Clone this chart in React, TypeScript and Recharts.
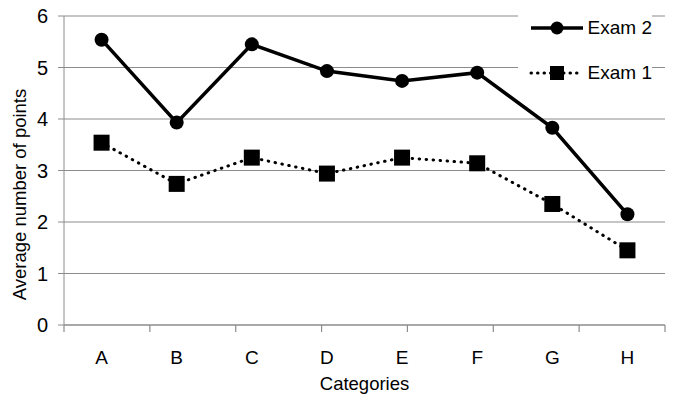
import { LineChart, Line, XAxis, YAxis, CartesianGrid } from "recharts";

const categories = ["A", "B", "C", "D", "E", "F", "G", "H"];
const exam2 = [5.54, 3.93, 5.45, 4.93, 4.74, 4.9, 3.83, 2.15];
const exam1 = [3.54, 2.74, 3.25, 2.94, 3.25, 3.14, 2.35, 1.45];
const yTicks = [0, 1, 2, 3, 4, 5, 6];
const boundaryTicks = [0, 1, 2, 3, 4, 5, 6, 7, 8];

const data = categories.map((c, i) => ({ cat: c, exam2: exam2[i], exam1: exam1[i] }));

const FONT = "'Liberation Sans', Arial, sans-serif";
const GRID = "#8c8c8c";

function SquareDot(props: any) {
  const { cx, cy } = props;
  if (cx == null || cy == null) return null;
  return <rect x={cx - 8} y={cy - 8} width={16} height={16} fill="#000" />;
}

// tick marks sit on the category boundaries, drawn downward from the axis
function EdgeTick(props: any) {
  const { x, y } = props;
  return <line x1={x} y1={y} x2={x} y2={y + 7} stroke={GRID} strokeWidth={1.2} />;
}

function YLabel(props: any) {
  const { viewBox } = props;
  const x = viewBox.x + 19;
  const y = viewBox.y + viewBox.height / 2 + 24;
  return (
    <text
      x={x}
      y={y}
      transform={`rotate(-90, ${x}, ${y})`}
      textAnchor="middle"
      dominantBaseline="central"
      fontSize={18.5}
      fill="#000"
    >
      Average number of points
    </text>
  );
}

function LegendBox() {
  const rows = [
    { name: "Exam 2", dashed: false },
    { name: "Exam 1", dashed: true },
  ];
  return (
    <div
      style={{
        position: "absolute",
        left: 518,
        top: 0,
        width: 134,
        height: 96,
        background: "#fff",
        paddingTop: 5,
        boxSizing: "border-box",
      }}
    >
      {rows.map((r) => (
        <div key={r.name} style={{ display: "flex", alignItems: "center", height: 45 }}>
          <svg width={58} height={20} style={{ marginLeft: 11 }}>
            <line
              x1={2}
              y1={10}
              x2={54}
              y2={10}
              stroke="#000"
              strokeWidth={r.dashed ? 3 : 3.5}
              strokeDasharray={r.dashed ? "0.5 6" : undefined}
              strokeLinecap={r.dashed ? "round" : "butt"}
            />
            {r.dashed ? (
              <rect x={21} y={3} width={14} height={14} fill="#000" />
            ) : (
              <circle cx={28} cy={10} r={6.5} fill="#000" />
            )}
          </svg>
          <span style={{ fontSize: 19, color: "#000", marginLeft: 1, whiteSpace: "nowrap" }}>{r.name}</span>
        </div>
      ))}
    </div>
  );
}

export default function App() {
  return (
    <div
      style={{
        position: "absolute",
        left: 0,
        top: 0,
        width: 681,
        height: 400,
        background: "#fff",
        fontFamily: FONT,
      }}
    >
      <LineChart
        width={681}
        height={400}
        data={data}
        margin={{ top: 16, right: 16, left: 0, bottom: 0 }}
        style={{ fontFamily: FONT }}
      >
        <CartesianGrid vertical={false} stroke={GRID} strokeWidth={1.2} />
        <XAxis
          dataKey="cat"
          scale="band"
          height={75}
          stroke={GRID}
          tickLine={false}
          tickMargin={20}
          tick={{ fontSize: 19, fill: "#000" }}
          label={{ value: "Categories", position: "insideBottom", offset: 10, fontSize: 18.5, fill: "#000" }}
          interval={0}
        />
        <XAxis
          xAxisId="edges"
          type="number"
          orientation="bottom"
          mirror
          domain={[0, 8]}
          ticks={boundaryTicks}
          height={1}
          axisLine={false}
          tickLine={false}
          tickSize={0}
          tickMargin={0}
          tick={<EdgeTick />}
          interval={0}
          allowDataOverflow
        />
        <YAxis
          width={64}
          domain={[0, 6]}
          ticks={yTicks}
          stroke={GRID}
          tickSize={6}
          tickMargin={10}
          tick={{ fontSize: 20, fill: "#000" }}
          label={<YLabel />}
        />
        <Line
          dataKey="exam2"
          name="Exam 2"
          stroke="#000"
          strokeWidth={3.5}
          dot={{ r: 7, fill: "#000", stroke: "#000", strokeWidth: 0 }}
          activeDot={false}
          isAnimationActive={false}
        />
        <Line
          dataKey="exam1"
          name="Exam 1"
          stroke="#000"
          strokeWidth={3}
          strokeDasharray="0.5 6.5"
          strokeLinecap="round"
          dot={<SquareDot />}
          activeDot={false}
          isAnimationActive={false}
        />
      </LineChart>
      <LegendBox />
    </div>
  );
}
